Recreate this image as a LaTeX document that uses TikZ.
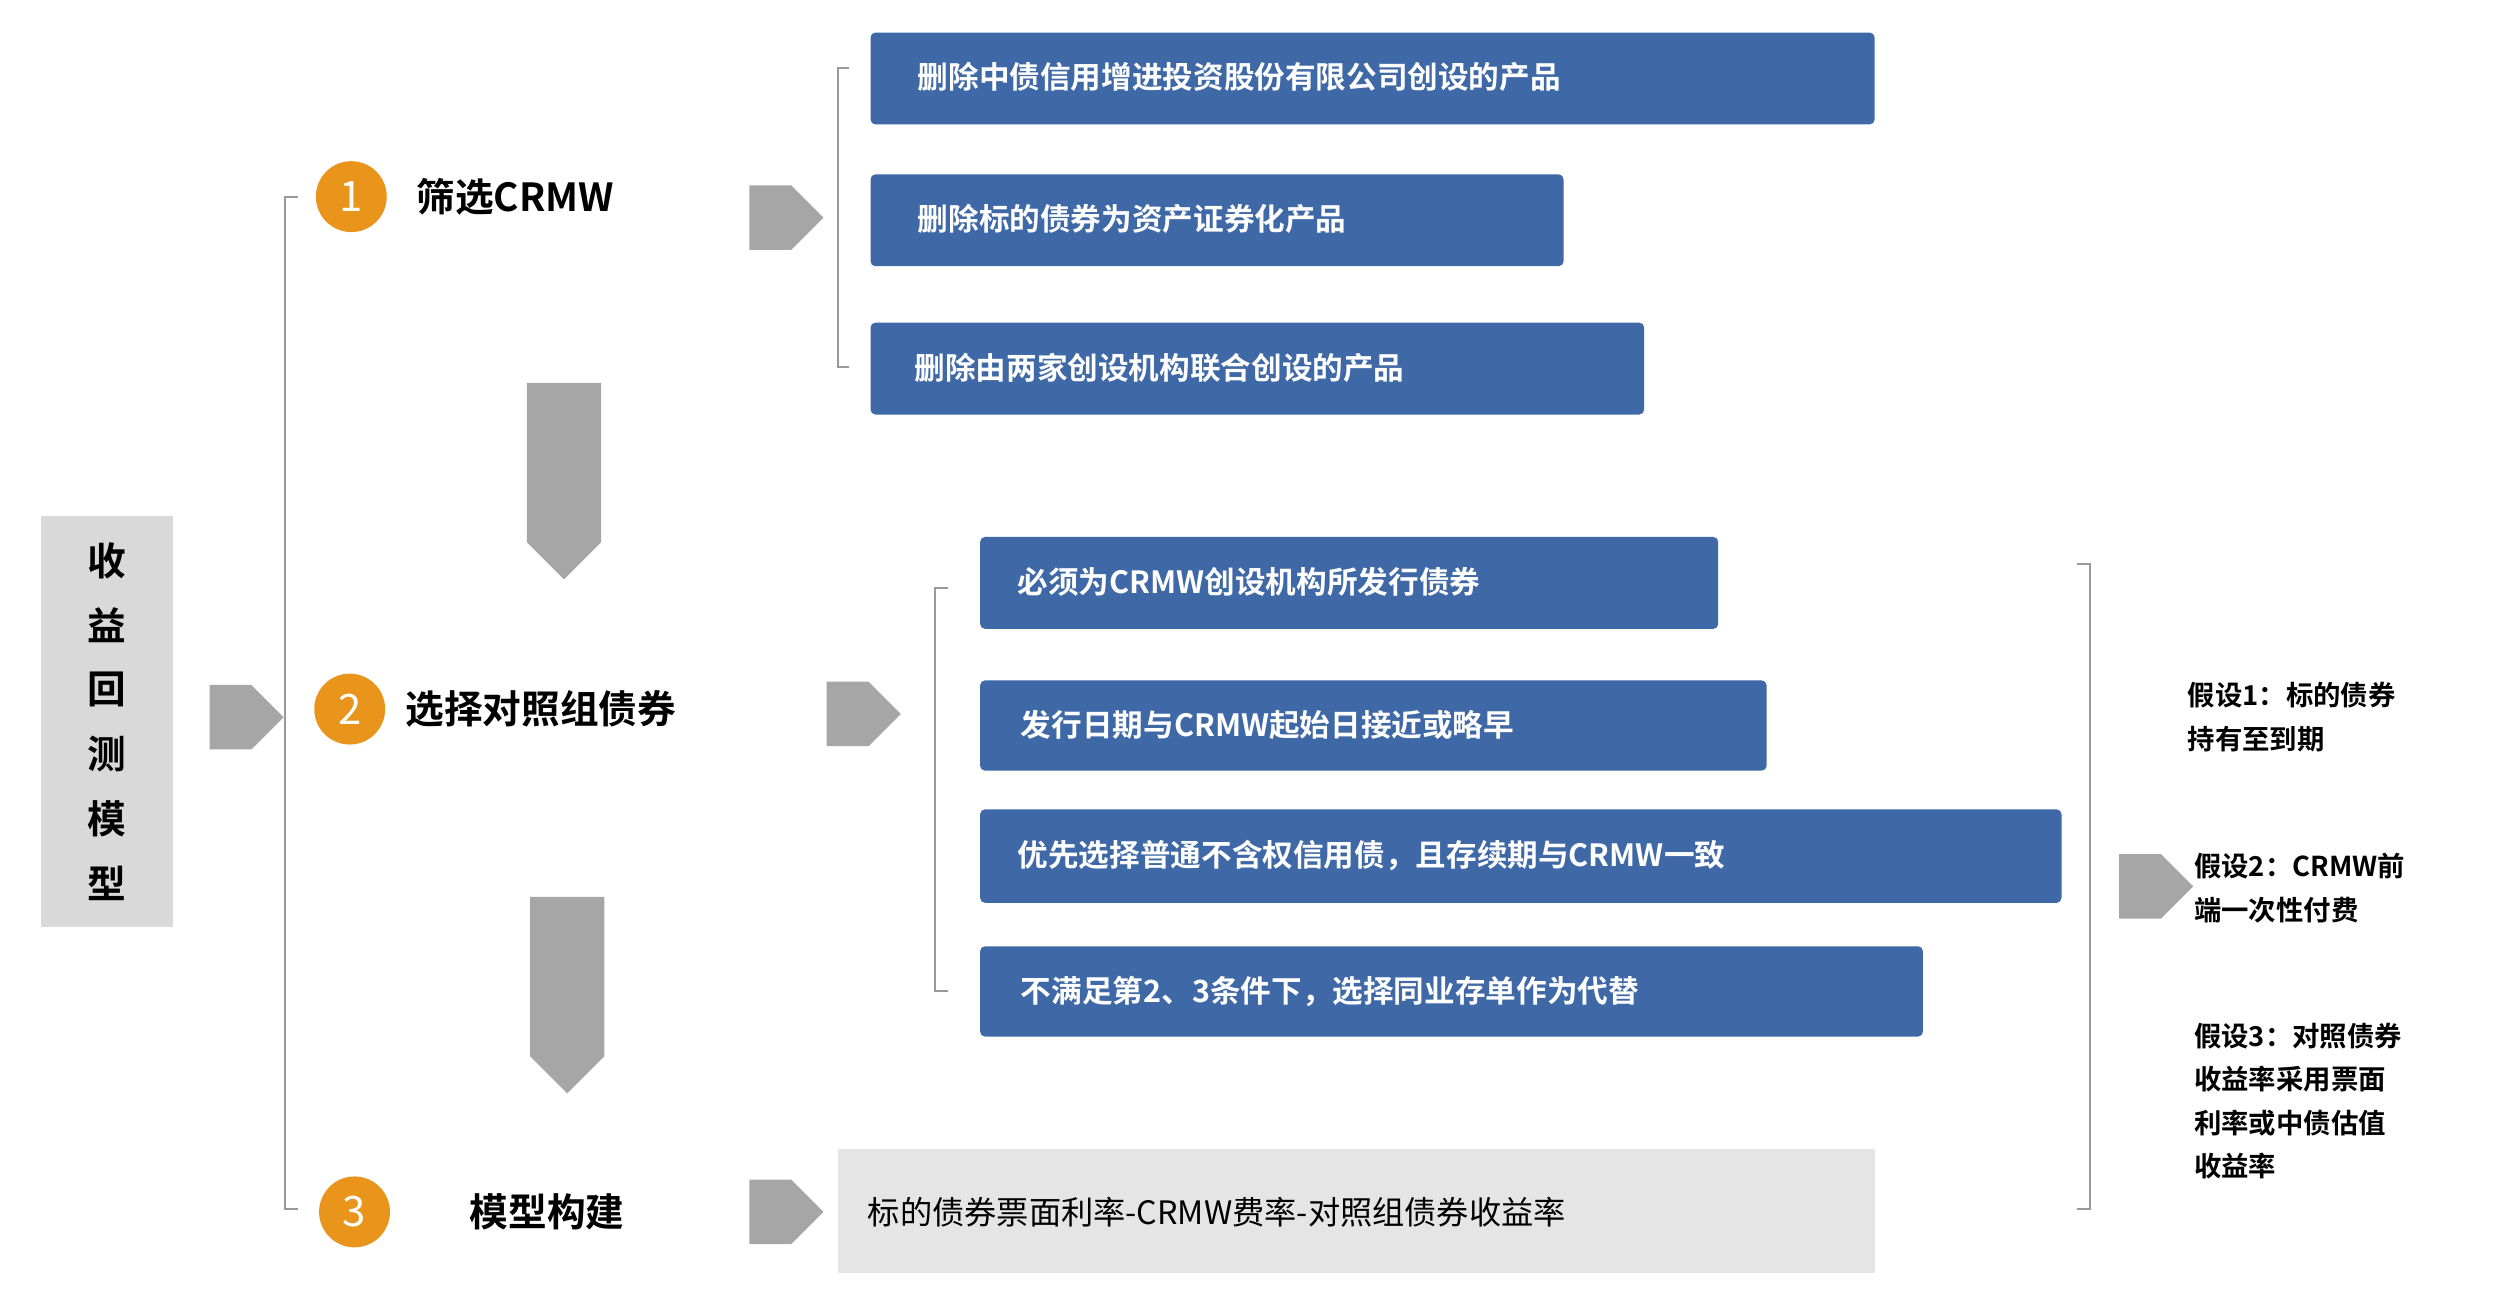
\documentclass[tikz,border=0pt]{standalone}
\usepackage{fontspec}
\setmainfont{Noto Sans CJK SC}
\newfontfamily\bfcjk{Noto Sans CJK SC Bold}
\usetikzlibrary{shapes.arrows}
\definecolor{bluebox}{HTML}{3F68A6}
\definecolor{orng}{HTML}{E9951C}
\definecolor{garr}{HTML}{A6A6A6}
\begin{document}
\begin{tikzpicture}[x=1pt,y=-1pt,
 blu/.style={fill=bluebox,rounded corners=3pt,text=white,font=\bfcjk\fontsize{19}{22}\selectfont,anchor=north west,inner sep=0,text depth=0pt},
 circ/.style={circle,fill=orng,text=white,minimum size=44pt,inner sep=0,font=\fontsize{26}{28}\selectfont},
 lab/.style={font=\bfcjk\fontsize{24}{28}\selectfont,anchor=west},
 rarr/.style={single arrow,fill=garr,minimum width=40pt,single arrow head extend=0pt,minimum height=46pt,inner sep=0,single arrow tip angle=90,shape border rotate=0},
 darr/.style={single arrow,fill=garr,minimum width=46pt,single arrow head extend=0pt,minimum height=122pt,inner sep=0,shape border rotate=270},
 brk/.style={draw=gray!80,line width=1.2pt},
 hyp/.style={font=\bfcjk\fontsize{17}{27}\selectfont,anchor=north west,align=left}]
\useasboundingbox (0,0) rectangle (1560,807);
\node[fill=black!15,minimum width=82pt,minimum height=255pt,anchor=north west,inner sep=0] (m) at (25,320) {};
\foreach \c [count=\i] in {收,益,回,测,模,型}
  \node[font=\bfcjk\fontsize{24}{26}\selectfont] at (66,308+40*\i) {\c};
\node[rarr] (a0) at (143,445) {};
\draw[brk] (185,122) -- (177,122) -- (177,750) -- (185,750);
\node[circ] (c1) at (218,122) {1};
\node[lab] (t1) at (255,122) {筛选CRMW};
\node[rarr] (a1) at (478,135) {};
\draw[brk] (527,42) -- (520,42) -- (520,228) -- (527,228);
\node[blu,minimum width=623pt,minimum height=57pt] (b1) at (540,20) {};
\node[text=white,font=\bfcjk\fontsize{19}{22}\selectfont,anchor=west] at (566,48) {删除中债信用增进投资股份有限公司创设的产品};
\node[blu,minimum width=430pt,minimum height=57pt] (b2) at (540,108) {};
\node[text=white,font=\bfcjk\fontsize{19}{22}\selectfont,anchor=west] at (566,136) {删除标的债券为资产证券化产品};
\node[blu,minimum width=480pt,minimum height=57pt] (b3) at (540,200) {};
\node[text=white,font=\bfcjk\fontsize{19}{22}\selectfont,anchor=west] at (564,228) {删除由两家创设机构联合创设的产品};
\node[darr] (d1) at (350,287) {};
\node[circ] (c2) at (217,440) {2};
\node[lab] (t2) at (248,440) {选择对照组债券};
\node[rarr] (a2) at (526,443) {};
\draw[brk] (588,365) -- (580,365) -- (580,615) -- (588,615);
\node[blu,minimum width=458pt,minimum height=57pt] (e1) at (608,333) {};
\node[text=white,font=\bfcjk\fontsize{19}{22}\selectfont,anchor=west] at (628,361) {必须为CRMW创设机构所发行债券};
\node[blu,minimum width=488pt,minimum height=56pt] (e2) at (608,422) {};
\node[text=white,font=\bfcjk\fontsize{19}{22}\selectfont,anchor=west] at (630,450) {发行日期与CRMW起始日接近或略早};
\node[blu,minimum width=671pt,minimum height=58pt] (e3) at (608,502) {};
\node[text=white,font=\bfcjk\fontsize{19}{22}\selectfont,anchor=west] at (628,531) {优先选择普通不含权信用债，且存续期与CRMW一致};
\node[blu,minimum width=585pt,minimum height=56pt] (e4) at (608,587) {};
\node[text=white,font=\bfcjk\fontsize{19}{22}\selectfont,anchor=west] at (630,615) {不满足第2、3条件下，选择同业存单作为代替};
\node[darr] (d2) at (352,606) {};
\node[circ] (c3) at (220,752) {3};
\node[lab] (t3) at (288,752) {模型构建};
\node[rarr] (a3) at (478,752) {};
\node[fill=black!10,minimum width=643pt,minimum height=77pt,anchor=north west,inner sep=0] (g) at (520,713) {};
\node[font=\fontsize{20}{24}\selectfont,anchor=west] at (535,752) {标的债券票面利率-CRMW费率-对照组债券收益率};
\draw[brk] (1289,350) -- (1297,350) -- (1297,750) -- (1289,750);
\node[rarr] (a4) at (1328,550) {};
\node[hyp] (h1) at (1354,420) {假设1：标的债券\\持有至到期};
\node[hyp] (h2) at (1358,526) {假设2：CRMW前\\端一次性付费};
\node[hyp] (h3) at (1358,631) {假设3：对照债券\\收益率采用票面\\利率或中债估值\\收益率};
\end{tikzpicture}
\end{document}
